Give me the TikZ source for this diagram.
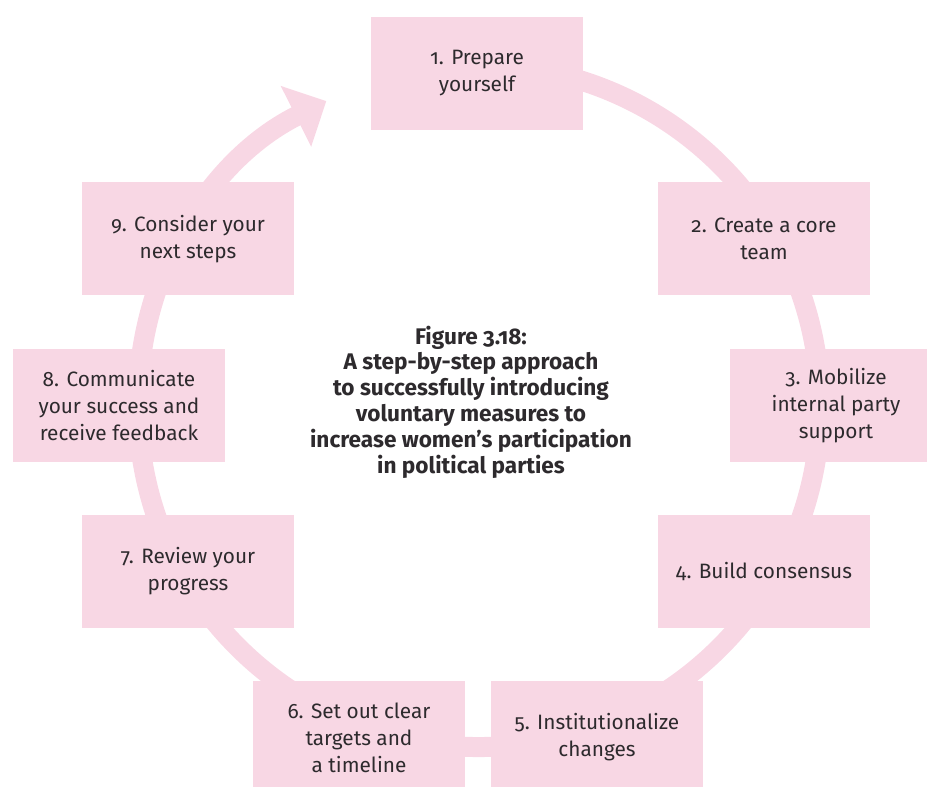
\documentclass[tikz,border=0pt]{standalone}
\usepackage{fontspec}
\setmainfont{Fira Sans}[Numbers=OldStyle]
\usetikzlibrary{positioning, arrows.meta}
\definecolor{steppink}{RGB}{248,215,228}
\definecolor{steptext}{RGB}{45,42,45}

\begin{document}
\begin{tikzpicture}
    [
        x=0.5pt, y=0.5pt,
        step_box/.style={rectangle, fill=steppink, minimum width=106pt, minimum height=56.5pt, inner sep=0pt, align=center, text=steptext, font=\fontsize{10.4}{13.5}\selectfont},
        title_node/.style={align=center, text=steptext, font=\fontsize{11.3}{12.9}\selectfont\bfseries},
        cycle_arrow/.style={draw=steppink, line width=10pt, -{Triangle[length=17pt, width=33pt]}},
    ]
        \useasboundingbox (0,0) rectangle (927,787);
        \coordinate (hub) at (479,381);
        \draw[cycle_arrow] (hub) ++(100:341) arc[start angle=100, end angle=-243.4, radius=341];
        \node[step_box] (s1) at (477,713.5) {1. Prepare\\yourself};
        \node[step_box] (s2) at (764,548) {2. Create a core\\team};
        \node[step_box] (s3) at (836,381) {3. Mobilize\\internal party\\support};
        \node[step_box] (s4) at (764,215.5) {4. Build consensus};
        \node[step_box] (s5) at (597,49.5) {5. Institutionalize\\changes};
        \node[step_box] (s6) at (359,49.5) {6. Set out clear\\targets and\\a timeline};
        \node[step_box] (s7) at (188,215.5) {7. Review your\\progress};
        \node[step_box] (s8) at (119,381) {8. Communicate\\your success and\\receive feedback};
        \node[step_box] (s9) at (188,548) {9. Consider your\\next steps};
        \node[title_node] (title) at (471,385) {Figure 3.18:\\A step-by-step approach\\to successfully introducing\\voluntary measures to\\increase women’s participation\\in political parties};
\end{tikzpicture}
\end{document}
